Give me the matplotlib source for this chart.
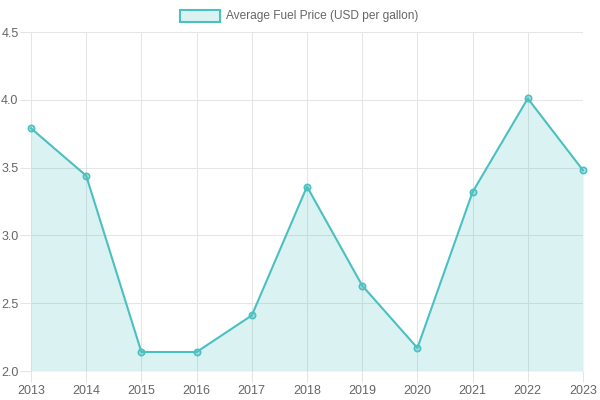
import matplotlib.pyplot as plt
from matplotlib.patches import Rectangle

# data
years = [2013, 2014, 2015, 2016, 2017, 2018, 2019, 2020, 2021, 2022, 2023]
prices = [3.79, 3.44, 2.14, 2.14, 2.41, 3.36, 2.63, 2.17, 3.32, 4.01, 3.48]
y_ticks = [2.0, 2.5, 3.0, 3.5, 4.0, 4.5]
label = "Average Fuel Price (USD per gallon)"

line_col = (75/255, 192/255, 192/255)
fill_col = (75/255, 192/255, 192/255, 0.2)
grid_col = "#e5e5e5"
text_col = "#666666"

plt.rcParams['font.family'] = ['Liberation Sans', 'DejaVu Sans']

fig = plt.figure(figsize=(6, 4), dpi=100)
# plot area in pixels: x 31..583, y 32..371
ax = fig.add_axes([31/600, 1 - 371/400, (583-31)/600, (371-32)/400])

ax.fill_between(years, prices, 2.0, color=fill_col, linewidth=0)
ax.plot(years, prices, color=line_col, linewidth=1.5, marker='o', markersize=4.5,
        markerfacecolor=(75/255, 192/255, 192/255, 0.4),
        markeredgecolor=line_col, markeredgewidth=1.2, clip_on=False)

ax.set_xlim(2013, 2023)
ax.set_ylim(2.0, 4.5)
ax.set_xticks(years)
ax.set_xticklabels([str(y) for y in years])
ax.set_yticks(y_ticks)
ax.set_yticklabels([f"{v:.1f}" for v in y_ticks])

ax.grid(True, color=grid_col, linewidth=0.75)
ax.set_axisbelow(True)
for s in ax.spines.values():
    s.set_visible(False)
ax.tick_params(axis='both', length=8, width=0.75, color=grid_col,
               labelcolor=text_col, labelsize=9, pad=2)
ax.tick_params(axis='y', pad=1)

# legend like chart.js: box + text centred at top
fig.patches.append(Rectangle((180/600, 1 - 22/400), 40/600, 12/400,
                             transform=fig.transFigure, facecolor=fill_col,
                             edgecolor=line_col, linewidth=1.5))
fig.text(226/600, 1 - 16/400, label, color=text_col, fontsize=8.6,
         va='center', ha='left')

fig.savefig("out.png", dpi=100)
